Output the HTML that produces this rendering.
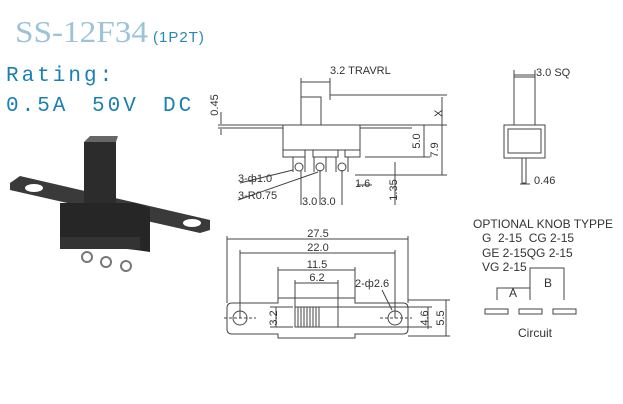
<!DOCTYPE html><html><head><style>body{margin:0;background:#fff}svg{display:block}</style></head><body>
<svg width="623" height="404" viewBox="0 0 623 404" xmlns="http://www.w3.org/2000/svg">
<text x="15" y="42" font-family="Liberation Serif,serif" font-size="31" fill="#9cc3da" textLength="133" lengthAdjust="spacingAndGlyphs">SS-12F34</text>
<text x="153" y="42" font-family="Liberation Sans,sans-serif" font-size="15" fill="#2a86b5" letter-spacing="1">(1P2T)</text>
<text x="6" y="81" font-family="Liberation Mono,monospace" font-size="21" fill="#1a7fb3" letter-spacing="3">Rating:</text>
<g font-family="Liberation Mono,monospace" font-size="21" fill="#1a7fb3" letter-spacing="3">
<text x="6" y="111">0.5A</text><text x="92" y="111">50V</text><text x="163" y="111">DC</text>
</g>
<g>
<path d="M10 183 L20 176 L210 220 L210 230 L200 233 L10 190Z" fill="#3a3a3a"/>
<ellipse cx="34" cy="188" rx="9" ry="4" fill="#fff"/>
<ellipse cx="192" cy="223" rx="9" ry="4" fill="#fff"/>
<rect x="84" y="142" width="32" height="62" fill="#2c2c2c"/>
<path d="M84 142 L90 136 L118 136 L116 142Z" fill="#666"/>
<path d="M60 203 L136 203 L150 208 L150 252 L136 250 L60 242Z" fill="#262626"/>
<rect x="60" y="237" width="80" height="12" fill="#333"/>
<circle cx="87" cy="257" r="5" fill="none" stroke="#777" stroke-width="2"/>
<circle cx="106" cy="262" r="5" fill="none" stroke="#777" stroke-width="2"/>
<circle cx="126" cy="266" r="5" fill="none" stroke="#777" stroke-width="2"/>
</g>
<g stroke="#444" stroke-width="1" fill="none">
<rect x="301" y="97" width="20" height="28"/>
<rect x="283" y="125" width="77" height="25"/>
<path d="M230 125 H412 M230 128 H283 M360 128 H412"/>
<rect x="283" y="150" width="22" height="7"/><rect x="313" y="150" width="25" height="7"/><rect x="345" y="150" width="15" height="7"/>
<circle cx="299" cy="167" r="4"/><circle cx="320" cy="167" r="4"/><circle cx="342" cy="167" r="4"/>
<path d="M293 157 V172 M305 157 V172 M314 157 V172 M326 157 V172 M336 157 V172 M348 157 V172"/>
<path d="M330 95 H447 M360 125 H447 M442 97 V175 M424 125 V157 M365 157 H430 M355 175 H447 M395 162 V205 M357 185 H372 M301 78 V100 M330 78 V100 M301 82 H330 M221 112 V124 M221 129 V135 M218 125 H230 M218 128 H230"/>
<path d="M240 183 L293 170 M238 200 L318 172 M301 170 V205 M320 170 V205 M342 170 V205"/>
<rect x="514" y="77" width="21" height="48"/>
<rect x="504" y="125" width="41" height="33"/>
<rect x="508" y="129" width="33" height="24"/>
<rect x="522" y="158" width="4" height="25"/>
<path d="M514 77 V70 M535 77 V70 M514 75 H535 M520 184 H530"/>
<path d="M232 303 H278 V298 H355 V303 H403 Q408 303 408 308 V329 Q408 334 403 334 H355 V338 H278 V334 H232 Q227 334 227 329 V308 Q227 303 232 303Z"/>
<circle cx="240" cy="318" r="7"/><circle cx="395" cy="318" r="7"/>
<rect x="295" y="307" width="43" height="20"/>
<path d="M298 307 V327 M301 307 V327 M304 307 V327 M307 307 V327 M310 307 V327 M313 307 V327 M316 307 V327 M319 307 V327"/>
<path d="M227 239 H408 M240 253 H395 M278 270 H355 M295 283 H338 M227 236 V303 M408 236 V303 M240 250 V318 M395 250 V318 M278 267 V298 M355 267 V298 M295 280 V307 M338 280 V307"/>
<path d="M382 290 L392 310 M338 307 H432 M338 327 H432 M408 300 H450 M408 336 H450 M428 307 V329 M446 300 V336 M270 307 H293 M270 327 H293 M276 307 V327"/>
<path d="M224 318 H256 M380 318 H412" stroke-dasharray="3,2"/>
<path d="M497 300 V288 H530 M530 300 V268 H564 V300" />
<rect x="485" y="309" width="23" height="5"/><rect x="519" y="309" width="23" height="5"/><rect x="553" y="309" width="23" height="5"/>
</g>
<g font-family="Liberation Sans,sans-serif" font-size="11" fill="#333">
<text x="330" y="74">3.2 TRAVRL</text>
<text x="536" y="76">3.0 SQ</text>
<text x="534" y="184">0.46</text>
<text x="238" y="182">3-ф1.0</text>
<text x="238" y="199">3-R0.75</text>
<text x="355" y="187">1.6</text>
<text x="302" y="205">3.0 3.0</text>
<text x="432" y="115" transform="rotate(-90 438 111)">X</text>
<text x="420" y="141" transform="rotate(-90 420 141)" text-anchor="middle">5.0</text>
<text x="438" y="150" transform="rotate(-90 438 150)" text-anchor="middle">7.9</text>
<text x="397" y="190" transform="rotate(-90 397 190)" text-anchor="middle">1.35</text>
<text x="218" y="105" transform="rotate(-90 218 105)" text-anchor="middle">0.45</text>
<text x="318" y="237" text-anchor="middle">27.5</text>
<text x="318" y="251" text-anchor="middle">22.0</text>
<text x="317" y="268" text-anchor="middle">11.5</text>
<text x="317" y="281" text-anchor="middle">6.2</text>
<text x="355" y="287">2-ф2.6</text>
<text x="277" y="318" transform="rotate(-90 277 318)" text-anchor="middle">3.2</text>
<text x="428" y="318" transform="rotate(-90 428 318)" text-anchor="middle">4.6</text>
<text x="444" y="318" transform="rotate(-90 444 318)" text-anchor="middle">5.5</text>
<text x="473" y="228" font-size="12">OPTIONAL KNOB TYPPE</text>
<text x="482" y="242" font-size="12" xml:space="preserve">G  2-15  CG 2-15</text>
<text x="482" y="257" font-size="12">GE 2-15QG 2-15</text>
<text x="482" y="271" font-size="12">VG 2-15</text>
<text x="509" y="297" font-size="12">A</text>
<text x="544" y="287" font-size="12">B</text>
<text x="518" y="337" font-size="12">Circuit</text>
</g>
</svg>
</body></html>
